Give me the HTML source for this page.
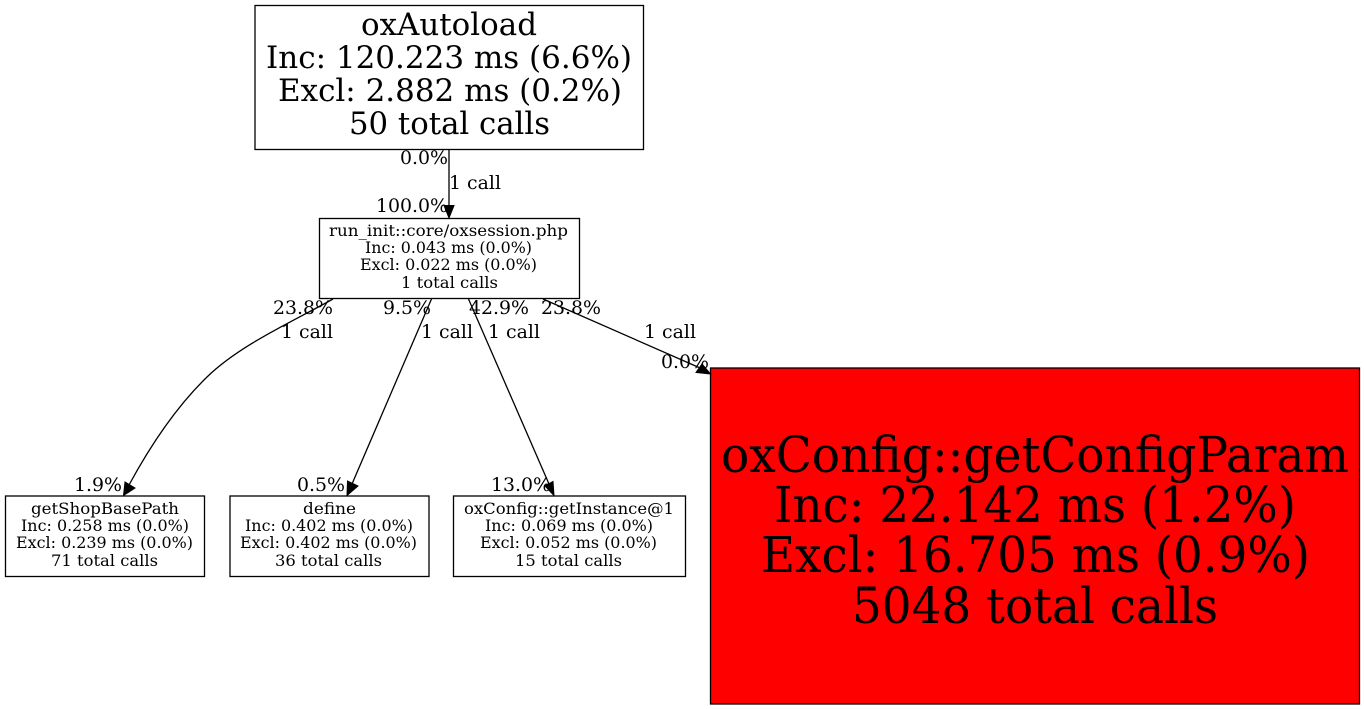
<!DOCTYPE html>
<html><head><meta charset="utf-8"><style>
html,body{margin:0;padding:0;background:#fff;width:1364px;height:709px;overflow:hidden}
svg{display:block}
text{font-family:"DejaVu Serif","Liberation Serif",serif;fill:#000;text-anchor:start}
.e{font-size:19px}
.n{font-size:16px}
.b{font-size:31px}
.h{font-size:50px}
</style></head><body>
<svg width="1364" height="709" viewBox="0 0 1364 709" xmlns="http://www.w3.org/2000/svg">
<g fill="none" stroke="#000" stroke-width="1.3">
<rect x="255" y="5.5" width="388.5" height="144"/>
<rect x="319.5" y="218.5" width="260" height="80"/>
<rect x="5.5" y="496" width="199" height="80.5"/>
<rect x="230" y="496" width="199" height="80.5"/>
<rect x="453.5" y="496" width="232" height="80.5"/>
<rect x="710.5" y="368" width="649" height="336" fill="#ff0000"/>
<path d="M449 150V207"/>
<path d="M333 299C290 323 240 345 207 377C175 408 148 450 129 485"/>
<path d="M431.5 299L352 484"/>
<path d="M468.5 299L549 484"/>
<path d="M543 299L699 367.5"/>
</g>
<g fill="#000" stroke="#000" stroke-width="1">
<path d="M444 205.5L454 205.5L449 218Z"/>
<path d="M123.5 495.5L125 482L135 488Z"/>
<path d="M347 495.5L347.5 481L358 486Z"/>
<path d="M554 495.5L545 486L553 481.5Z"/>
<path d="M710.5 374L702 364L696 372.5Z"/>
</g>
<text class="b" lengthAdjust="spacingAndGlyphs" x="361" y="35" textLength="176">oxAutoload</text>
<text class="b" lengthAdjust="spacingAndGlyphs" x="266" y="68" textLength="366">Inc: 120.223 ms (6.6%)</text>
<text class="b" lengthAdjust="spacingAndGlyphs" x="278" y="101" textLength="344">Excl: 2.882 ms (0.2%)</text>
<text class="b" lengthAdjust="spacingAndGlyphs" x="349" y="134" textLength="201">50 total calls</text>
<text class="n" lengthAdjust="spacingAndGlyphs" x="329" y="236" textLength="239">run_init::core/oxsession.php</text>
<text class="n" lengthAdjust="spacingAndGlyphs" x="365" y="253" textLength="167">Inc: 0.043 ms (0.0%)</text>
<text class="n" lengthAdjust="spacingAndGlyphs" x="360" y="270" textLength="177">Excl: 0.022 ms (0.0%)</text>
<text class="n" lengthAdjust="spacingAndGlyphs" x="401" y="288" textLength="97">1 total calls</text>
<text class="n" lengthAdjust="spacingAndGlyphs" x="31" y="514" textLength="148">getShopBasePath</text>
<text class="n" lengthAdjust="spacingAndGlyphs" x="21" y="531" textLength="168">Inc: 0.258 ms (0.0%)</text>
<text class="n" lengthAdjust="spacingAndGlyphs" x="16" y="548" textLength="177">Excl: 0.239 ms (0.0%)</text>
<text class="n" lengthAdjust="spacingAndGlyphs" x="51" y="566" textLength="107">71 total calls</text>
<text class="n" lengthAdjust="spacingAndGlyphs" x="303" y="514" textLength="53">define</text>
<text class="n" lengthAdjust="spacingAndGlyphs" x="245" y="531" textLength="168">Inc: 0.402 ms (0.0%)</text>
<text class="n" lengthAdjust="spacingAndGlyphs" x="240" y="548" textLength="177">Excl: 0.402 ms (0.0%)</text>
<text class="n" lengthAdjust="spacingAndGlyphs" x="275" y="566" textLength="107">36 total calls</text>
<text class="n" lengthAdjust="spacingAndGlyphs" x="464" y="514" textLength="210">oxConfig::getInstance@1</text>
<text class="n" lengthAdjust="spacingAndGlyphs" x="485" y="531" textLength="168">Inc: 0.069 ms (0.0%)</text>
<text class="n" lengthAdjust="spacingAndGlyphs" x="480" y="548" textLength="177">Excl: 0.052 ms (0.0%)</text>
<text class="n" lengthAdjust="spacingAndGlyphs" x="515" y="566" textLength="107">15 total calls</text>
<text class="h" lengthAdjust="spacingAndGlyphs" x="721" y="472" textLength="628">oxConfig::getConfigParam</text>
<text class="h" lengthAdjust="spacingAndGlyphs" x="774" y="522" textLength="522">Inc: 22.142 ms (1.2%)</text>
<text class="h" lengthAdjust="spacingAndGlyphs" x="761" y="572" textLength="549">Excl: 16.705 ms (0.9%)</text>
<text class="h" lengthAdjust="spacingAndGlyphs" x="852" y="623" textLength="366">5048 total calls</text>
<text class="e" lengthAdjust="spacingAndGlyphs" x="400" y="164" textLength="48">0.0%</text>
<text class="e" lengthAdjust="spacingAndGlyphs" x="449" y="189" textLength="52">1 call</text>
<text class="e" lengthAdjust="spacingAndGlyphs" x="376" y="212" textLength="72">100.0%</text>
<text class="e" lengthAdjust="spacingAndGlyphs" x="273" y="314" textLength="60">23.8%</text>
<text class="e" lengthAdjust="spacingAndGlyphs" x="281" y="338" textLength="52">1 call</text>
<text class="e" lengthAdjust="spacingAndGlyphs" x="383" y="314" textLength="48">9.5%</text>
<text class="e" lengthAdjust="spacingAndGlyphs" x="421" y="338" textLength="52">1 call</text>
<text class="e" lengthAdjust="spacingAndGlyphs" x="469" y="314" textLength="60">42.9%</text>
<text class="e" lengthAdjust="spacingAndGlyphs" x="488" y="338" textLength="52">1 call</text>
<text class="e" lengthAdjust="spacingAndGlyphs" x="541" y="314" textLength="60">23.8%</text>
<text class="e" lengthAdjust="spacingAndGlyphs" x="644" y="338" textLength="52">1 call</text>
<text class="e" lengthAdjust="spacingAndGlyphs" x="661" y="368" textLength="48">0.0%</text>
<text class="e" lengthAdjust="spacingAndGlyphs" x="74" y="491" textLength="48">1.9%</text>
<text class="e" lengthAdjust="spacingAndGlyphs" x="297" y="491" textLength="48">0.5%</text>
<text class="e" lengthAdjust="spacingAndGlyphs" x="491" y="491" textLength="60">13.0%</text>
</svg>
</body></html>
